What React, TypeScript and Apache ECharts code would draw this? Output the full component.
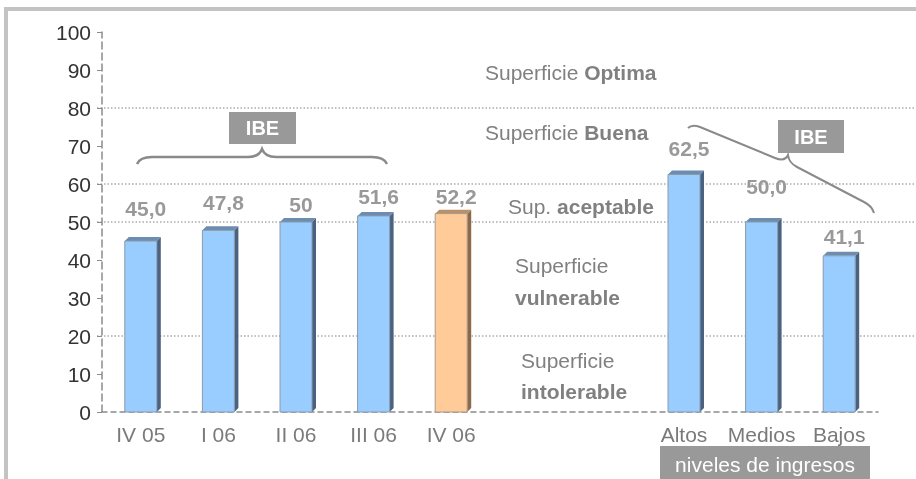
import React, { useEffect, useRef } from "react";
import * as echarts from "echarts";

const categories = ["IV 05", "I 06", "II 06", "III 06", "IV 06", "", "", "Altos", "Medios", "Bajos"];
const values: (number | null)[] = [45.0, 47.8, 50, 51.6, 52.2, null, null, 62.5, 50.0, 41.1];
const valueLabels = ["45,0", "47,8", "50", "51,6", "52,2", "", "", "62,5", "50,0", "41,1"];
const highlighted = "IV 06";
const zoneBounds = [20, 50, 60, 80];
const yMin = 0;
const yMax = 100;
const yStep = 10;

// label gap above bar top (px), styling only
const labelGaps = [33, 28, 18, 19, 17, 0, 0, 26, 36, 19];

const FONT = "'Liberation Sans', Arial, sans-serif";

echarts.graphic.registerShape(
  "braceLeft",
  echarts.graphic.extendPath(
    "M137,164 Q140,157 152,157 L248,157 Q259,157 262,149 Q265,157 276,157 L372,157 Q384,157 387,164",
    {}
  )
);
echarts.graphic.registerShape(
  "braceRight",
  echarts.graphic.extendPath(
    "M688,128 Q692,124 700,127 L775,158 Q785,162 788,155 Q789,163 797,167 L864,202 Q872,206 874,213",
    {}
  )
);

export default function App() {
  const ref = useRef<HTMLDivElement>(null);
  useEffect(() => {
    if (!ref.current) return;
    const chart = echarts.init(ref.current, undefined, { renderer: "svg" });
    const option: any = {
      animation: false,
      grid: { left: 102, right: 38, top: 32, bottom: 67 },
      xAxis: {
        type: "category",
        data: categories,
        axisLine: { show: true, lineStyle: { color: "#8c8c8c", width: 1.5, type: [5, 4] } },
        axisTick: { show: false },
        axisLabel: { color: "#7a7a7a", fontSize: 21, fontFamily: FONT, margin: 12, interval: 0 },
      },
      yAxis: {
        type: "value",
        min: yMin,
        max: yMax,
        interval: yStep,
        axisLine: { show: true, lineStyle: { color: "#8c8c8c", width: 1.5, type: [7, 4] } },
        axisTick: { show: true, length: 5, lineStyle: { color: "#8c8c8c" } },
        axisLabel: { color: "#333", fontSize: 21, fontFamily: FONT, margin: 11 },
        splitLine: { show: false },
      },
      series: [
        {
          type: "custom",
          data: values.map((v, i) => [i, v == null ? 0 : v]),
          renderItem: (params: any, api: any) => {
            const i = params.dataIndex;
            if (values[i] == null) return null;
            const top = api.coord([i, values[i]]);
            const base = api.coord([i, 0]);
            const cx = top[0];
            const ty = top[1];
            const by = base[1];
            const w = 32;
            const d = 4;
            const hl = categories[i] === highlighted;
            const front = hl ? "#ffcc99" : "#99ccff";
            const side = hl ? "#8a6a48" : "#4a6282";
            const topc = hl ? "#b8906a" : "#6d8db0";
            const stroke = hl ? "#a8988a" : "#8a9aaa";
            return {
              type: "group",
              children: [
                {
                  type: "polygon",
                  shape: { points: [[cx + w / 2, ty], [cx + w / 2 + d, ty - d], [cx + w / 2 + d, by - d], [cx + w / 2, by]] },
                  style: { fill: side },
                },
                {
                  type: "polygon",
                  shape: { points: [[cx - w / 2, ty], [cx - w / 2 + d, ty - d], [cx + w / 2 + d, ty - d], [cx + w / 2, ty]] },
                  style: { fill: topc },
                },
                {
                  type: "rect",
                  shape: { x: cx - w / 2, y: ty, width: w, height: by - ty },
                  style: { fill: front, stroke, lineWidth: 1 },
                },
                {
                  type: "text",
                  x: cx + 5,
                  y: ty - labelGaps[i],
                  style: {
                    text: valueLabels[i],
                    fill: "#999999",
                    fontSize: 21,
                    fontWeight: "bold",
                    fontFamily: FONT,
                    align: "center",
                    verticalAlign: "middle",
                  },
                },
              ],
            };
          },
        },
      ],
    };
    chart.setOption(option);

    const zoneYs = zoneBounds.map((v) => chart.convertToPixel({ yAxisIndex: 0 }, v) as number);
    const txt = (x: number, y: number, text: string, extra: any = {}) => ({
      type: "text",
      x,
      y,
      style: {
        text,
        fill: "#808080",
        fontSize: 21,
        fontFamily: FONT,
        verticalAlign: "middle",
        rich: { b: { fontWeight: "bold", fontSize: 21, fill: "#808080", fontFamily: FONT } },
        ...extra,
      },
    });
    const elements: any[] = [
      {
        type: "rect",
        shape: { x: 6, y: 9, width: 1000, height: 1000 },
        style: { fill: "none", stroke: "#c3c3c3", lineWidth: 4 },
        silent: true,
      },
      ...zoneYs.map((y) => ({
        type: "line",
        shape: { x1: 97, y1: y, x2: 916, y2: y },
        style: { stroke: "#808080", lineWidth: 1, lineDash: [1.5, 2] },
        z: -1,
      })),
      txt(485, 72, "Superficie {b|Optima}"),
      txt(485, 132, "Superficie {b|Buena}"),
      txt(508, 206, "Sup. {b|aceptable}"),
      txt(515, 265, "Superficie"),
      txt(515, 297, "{b|vulnerable}"),
      txt(521, 360, "Superficie"),
      txt(521, 391, "{b|intolerable}"),
      {
        type: "braceLeft",
        style: { fill: "none", stroke: "#8a8a8a", lineWidth: 2.5 },
      },
      {
        type: "braceRight",
        style: { fill: "none", stroke: "#8a8a8a", lineWidth: 2 },
      },
      { type: "rect", shape: { x: 229, y: 112, width: 67, height: 32 }, style: { fill: "#999999" } },
      {
        type: "text",
        x: 262.5,
        y: 128,
        style: { text: "IBE", fill: "#ffffff", fontSize: 20, fontWeight: "bold", fontFamily: FONT, align: "center", verticalAlign: "middle" },
      },
      { type: "rect", shape: { x: 778, y: 120, width: 66, height: 33 }, style: { fill: "#999999" } },
      {
        type: "text",
        x: 811,
        y: 136.5,
        style: { text: "IBE", fill: "#ffffff", fontSize: 20, fontWeight: "bold", fontFamily: FONT, align: "center", verticalAlign: "middle" },
      },
      { type: "rect", shape: { x: 660, y: 446, width: 210, height: 40 }, style: { fill: "#999999" } },
      {
        type: "text",
        x: 765,
        y: 464,
        style: { text: "niveles de ingresos", fill: "#ffffff", fontSize: 21, fontFamily: FONT, align: "center", verticalAlign: "middle" },
      },
    ];
    chart.setOption({ graphic: { elements } });
    return () => chart.dispose();
  }, []);
  return <div ref={ref} style={{ position: "fixed", left: 0, top: 0, width: 916, height: 479 }} />;
}
